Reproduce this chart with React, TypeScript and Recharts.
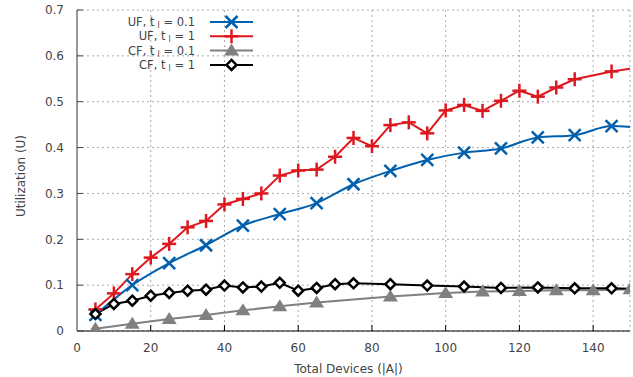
import { LineChart, Line, XAxis, YAxis, CartesianGrid, Legend } from "recharts";

const ufT01X = [5, 15, 25, 35, 45, 55, 65, 75, 85, 95, 105, 115, 125, 135, 145, 150];
const ufT01Y = [0.035, 0.1, 0.148, 0.187, 0.23, 0.255, 0.279, 0.32, 0.349, 0.373, 0.389, 0.398, 0.422, 0.427, 0.447, 0.445];

const ufT1X = [5, 10, 15, 20, 25, 30, 35, 40, 45, 50, 55, 60, 65, 70, 75, 80, 85, 90, 95, 100, 105, 110, 115, 120, 125, 130, 135, 145, 150];
const ufT1Y = [0.047, 0.082, 0.124, 0.16, 0.19, 0.226, 0.24, 0.276, 0.288, 0.3, 0.339, 0.35, 0.352, 0.38, 0.421, 0.403, 0.449, 0.455, 0.431, 0.481, 0.493, 0.48, 0.502, 0.524, 0.511, 0.531, 0.549, 0.566, 0.572];

const cfT01X = [5, 15, 25, 35, 45, 55, 65, 85, 100, 110, 120, 130, 140, 150];
const cfT01Y = [0.005, 0.016, 0.026, 0.035, 0.045, 0.054, 0.062, 0.075, 0.083, 0.086, 0.087, 0.089, 0.089, 0.091];

const cfT1X = [5, 10, 15, 20, 25, 30, 35, 40, 45, 50, 55, 60, 65, 70, 75, 85, 95, 105, 115, 125, 135, 145, 150];
const cfT1Y = [0.037, 0.059, 0.066, 0.077, 0.083, 0.088, 0.09, 0.099, 0.095, 0.097, 0.105, 0.088, 0.094, 0.102, 0.104, 0.102, 0.099, 0.097, 0.094, 0.095, 0.093, 0.093, 0.092];

const xTicks = [0, 20, 40, 60, 80, 100, 120, 140];
const yTicks = [0, 0.1, 0.2, 0.3, 0.4, 0.5, 0.6, 0.7];

const FONT = "DejaVu Sans";
const TEXT = "#444";
const FS = 12;

const zip = (xs: number[], ys: number[]) => xs.map((x, i) => ({ x, y: ys[i] }));

// marker shapes, centred on cx/cy
const Marker = ({ shape, cx, cy, color }: any) => {
  if (shape === "cross")
    return (
      <g stroke={color} strokeWidth={2.5}>
        <line x1={cx - 6} y1={cy - 6} x2={cx + 6} y2={cy + 6} />
        <line x1={cx - 6} y1={cy + 6} x2={cx + 6} y2={cy - 6} />
      </g>
    );
  if (shape === "plus")
    return (
      <g stroke={color} strokeWidth={2.5}>
        <line x1={cx - 7} y1={cy} x2={cx + 7} y2={cy} />
        <line x1={cx} y1={cy - 7} x2={cx} y2={cy + 7} />
      </g>
    );
  if (shape === "triangle")
    return <polygon points={`${cx},${cy - 7} ${cx - 7.5},${cy + 5} ${cx + 7.5},${cy + 5}`} fill={color} />;
  return (
    <polygon
      points={`${cx},${cy - 5} ${cx + 5},${cy} ${cx},${cy + 5} ${cx - 5},${cy}`}
      fill="#fff"
      stroke={color}
      strokeWidth={2.5}
    />
  );
};

const SERIES = [
  { name: "UF", t: "0.1", xs: ufT01X, ys: ufT01Y, color: "#0060ad", shape: "cross", edgeDot: false, type: "monotone" },
  { name: "UF", t: "1", xs: ufT1X, ys: ufT1Y, color: "#dd181f", shape: "plus", edgeDot: false, type: "linear" },
  { name: "CF", t: "0.1", xs: cfT01X, ys: cfT01Y, color: "#808080", shape: "triangle", edgeDot: true, type: "linear" },
  { name: "CF", t: "1", xs: cfT1X, ys: cfT1Y, color: "#000", shape: "diamond", edgeDot: false, type: "linear" },
];

const makeDot = (s: any) => (p: any) => {
  const hide = !s.edgeDot && p.payload && p.payload.x === 150;
  if (hide || p.cx == null) return <g key={p.index} />;
  return <Marker key={p.index} shape={s.shape} cx={p.cx} cy={p.cy} color={s.color} />;
};

const LegendBox = () => (
  <svg width={170} height={64} style={{ display: "block", overflow: "visible" }}>
    {SERIES.map((s, i) => {
      const cy = 10 + i * 14.3;
      return (
        <g key={i}>
          <text x={95} y={cy + 4} textAnchor="end" fontFamily={FONT} fontSize={11.5} fill={TEXT}>
            {s.name}, t
            <tspan dx={3} dy={2} fontSize={8}>l</tspan>
            <tspan dy={-2}>{` = ${s.t}`}</tspan>
          </text>
          <line x1={110} y1={cy} x2={153} y2={cy} stroke={s.color} strokeWidth={2} />
          <Marker shape={s.shape} cx={131.5} cy={cy} color={s.color} />
        </g>
      );
    })}
  </svg>
);

export default function App() {
  return (
    <div style={{ position: "absolute", left: 0, top: 0, background: "#fff" }}>
      <LineChart width={633} height={377} margin={{ top: 10, right: 3, bottom: 0, left: 0 }} style={{ fontFamily: FONT }}>
        <CartesianGrid stroke="#aaa" strokeDasharray="2 3" />
        <XAxis
          dataKey="x"
          type="number"
          domain={[0, 150]}
          ticks={xTicks}
          allowDataOverflow
          height={46}
          stroke="#000"
          tickSize={-6}
          tickMargin={18}
          tick={{ fill: TEXT, fontSize: FS, fontFamily: FONT }}
          label={{ value: "Total Devices (|A|)", position: "insideBottom", offset: 4, dx: -5, fill: TEXT, fontSize: FS, fontFamily: FONT }}
        />
        <XAxis
          xAxisId="top"
          orientation="top"
          type="number"
          domain={[0, 150]}
          ticks={xTicks}
          allowDataOverflow
          height={0}
          stroke="#000"
          tickSize={-6}
          tick={false}
        />
        <YAxis
          type="number"
          domain={[0, 0.7]}
          ticks={yTicks}
          allowDataOverflow
          width={77}
          stroke="#999"
          strokeWidth={2}
          tickLine={{ stroke: "#444", strokeWidth: 1 }}
          tickSize={-6}
          tickMargin={19}
          tick={{ fill: TEXT, fontSize: FS, fontFamily: FONT }}
          label={{
            content: () => (
              <text transform="translate(25,176) rotate(-90)" textAnchor="middle" fontFamily={FONT} fontSize={FS} fill={TEXT}>
                Utilization (U)
              </text>
            ),
          }}
        />
        <YAxis
          yAxisId="right"
          orientation="right"
          type="number"
          domain={[0, 0.7]}
          ticks={yTicks}
          allowDataOverflow
          width={0}
          stroke="#000"
          tickLine={{ stroke: "#888" }}
          tickSize={-6}
          tick={false}
        />
        {SERIES.map((s, i) => (
          <Line
            key={i}
            data={zip(s.xs, s.ys)}
            dataKey="y"
            type={s.type as any}
            stroke={s.color}
            strokeWidth={2}
            dot={makeDot(s)}
            activeDot={false}
            isAnimationActive={false}
            legendType="none"
          />
        ))}
        <Legend
          layout="vertical"
          align="center"
          verticalAlign="middle"
          content={() => <LegendBox />}
          wrapperStyle={{ left: 100, top: 12, width: 170, height: 64 }}
        />
      </LineChart>
    </div>
  );
}
